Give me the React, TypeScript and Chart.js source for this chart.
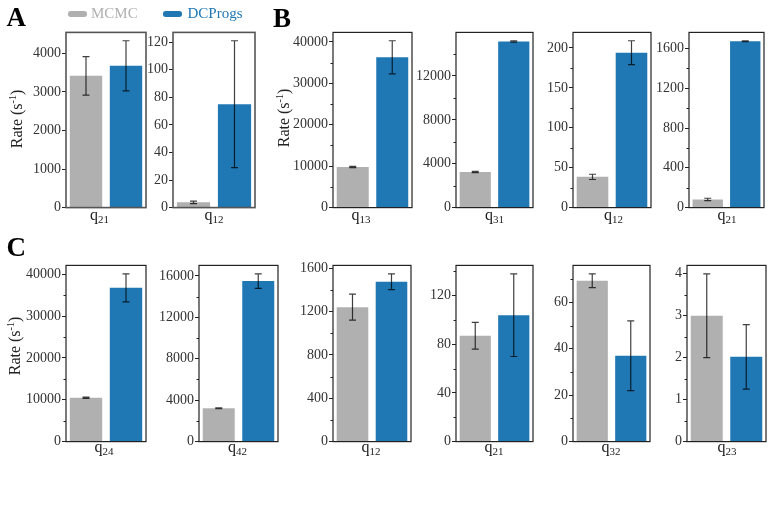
import React, { useEffect, useRef } from 'react';
import { Chart, registerables } from 'chart.js';

Chart.register(...registerables);

const FONT = '"Liberation Serif", "Times New Roman", serif';
const GREY = '#b0b0b0';
const BLUE = '#1f77b4';

// Estimated transition rates (s^-1) for each panel, left to right: A (2), B (4), C (6)
const series = ['MCMC', 'DCProgs'];
const transitions = ['21', '12', '13', '31', '12', '21', '24', '42', '12', '21', '32', '23'];
const mcmcRate = [3420, 3.8, 9800, 3250, 38.5, 82, 10500, 3220, 1240, 87, 69.3, 3.0];
const mcmcErr = [500, 0.9, 150, 60, 3.3, 12, 150, 50, 120, 11, 3, 1.0];
const dcprogsRate = [3680, 75, 36300, 15150, 194, 1672, 36750, 15500, 1475, 104, 37, 2.02];
const dcprogsErr = [650, 46, 4000, 60, 15, 5, 3350, 700, 73, 34, 15, 0.77];
const majorStep = [1000, 20, 10000, 4000, 50, 400, 10000, 4000, 400, 40, 20, 1];
const minorStep = [0, 0, 5000, 2000, 25, 200, 5000, 2000, 200, 20, 10, 0.5];

// Plot frames on the page: left, top, right, bottom
const frames = [
  [66, 31, 146, 209], [173, 31, 255, 209],
  [333, 31, 412, 209], [456, 31, 533, 209], [573, 31, 651, 209], [689, 31, 764, 209],
  [66, 264, 146, 443], [199, 264, 278, 443], [333, 264, 411, 443],
  [456, 264, 533, 443], [573, 264, 650, 443], [687, 264, 766, 443],
];
const xLabelCenter = [99.5, 214, 361, 494.5, 613.5, 727, 104, 237.5, 371, 494, 611, 727];

const AXIS_W = 50;
const PAD_T = 8;
const PAD_R = 4;
const PAD_B = 8;

function makeChart(canvas: HTMLCanvasElement, i: number, frameColor: string, frameWidth: number) {
  const errors = [mcmcErr[i], dcprogsErr[i]];
  const top = Math.max(mcmcRate[i] + mcmcErr[i], dcprogsRate[i] + dcprogsErr[i]) * 1.05;
  const step = majorStep[i];
  const minor = minorStep[i];

  const errorBars = {
    id: 'errorBars',
    afterDatasetsDraw(chart: any) {
      const ctx = chart.ctx;
      const y = chart.scales.y;
      const meta = chart.getDatasetMeta(0);
      const values = chart.data.datasets[0].data as number[];
      ctx.save();
      ctx.strokeStyle = 'rgba(0,0,0,0.75)';
      ctx.lineWidth = 1.2;
      meta.data.forEach((bar: any, j: number) => {
        const x = bar.x;
        const yHi = y.getPixelForValue(values[j] + errors[j]);
        const yLo = y.getPixelForValue(values[j] - errors[j]);
        ctx.beginPath();
        ctx.moveTo(x, yHi);
        ctx.lineTo(x, yLo);
        ctx.moveTo(x - 3.5, yHi);
        ctx.lineTo(x + 3.5, yHi);
        ctx.moveTo(x - 3.5, yLo);
        ctx.lineTo(x + 3.5, yLo);
        ctx.stroke();
      });
      ctx.restore();
    },
  };

  const frame = {
    id: 'frame',
    afterDraw(chart: any) {
      const { ctx, chartArea: a } = chart;
      const y = chart.scales.y;
      ctx.save();
      ctx.strokeStyle = '#222';
      ctx.lineWidth = 1;
      if (minor > 0) {
        for (let v = minor; v < top; v += minor) {
          const r = v / step;
          if (Math.abs(r - Math.round(r)) < 1e-6) continue;
          const py = Math.round(y.getPixelForValue(v)) + 0.5;
          ctx.beginPath();
          ctx.moveTo(a.left - 2.5, py);
          ctx.lineTo(a.left, py);
          ctx.stroke();
        }
      }
      ctx.strokeStyle = frameColor;
      ctx.lineWidth = frameWidth;
      ctx.strokeRect(a.left, a.top, a.right - a.left, a.bottom - a.top);
      ctx.restore();
    },
  };

  return new Chart(canvas, {
    type: 'bar',
    data: {
      labels: series,
      datasets: [
        {
          data: [mcmcRate[i], dcprogsRate[i]],
          backgroundColor: [GREY, BLUE],
          borderWidth: 0,
          barPercentage: 0.81,
          categoryPercentage: 1,
        },
      ],
    },
    options: {
      animation: false,
      responsive: false,
      devicePixelRatio: 1,
      layout: { padding: { top: PAD_T, right: PAD_R, bottom: PAD_B, left: 0 } },
      plugins: { legend: { display: false }, tooltip: { enabled: false } },
      scales: {
        x: { display: false, offset: true },
        y: {
          min: 0,
          max: top,
          afterFit(scale: any) {
            scale.width = AXIS_W;
          },
          afterBuildTicks(scale: any) {
            const ticks = [];
            for (let k = 0; k * step <= top + 1e-9; k++) ticks.push({ value: k * step });
            scale.ticks = ticks;
          },
          ticks: {
            color: '#333',
            padding: 1,
            font: { family: FONT, size: 14 },
            callback: (v: any) => String(v),
          },
          grid: {
            display: true,
            drawOnChartArea: false,
            drawTicks: true,
            tickLength: 4,
            tickColor: '#222',
            tickWidth: 1,
          },
          border: { display: false },
        },
      },
    },
    plugins: [errorBars, frame],
  } as any);
}

function Panel({ i }: { i: number }) {
  const ref = useRef<HTMLCanvasElement>(null);
  const [l, t, r, b] = frames[i];
  const cw = AXIS_W + (r - l) + PAD_R;
  const ch = PAD_T + (b - t) + PAD_B;
  const isA = i < 2;
  useEffect(() => {
    const chart = makeChart(ref.current!, i, isA ? '#555' : '#222', isA ? 1.6 : 1.2);
    return () => chart.destroy();
  }, [i]);
  return (
    <canvas
      ref={ref}
      width={cw}
      height={ch}
      style={{ position: 'absolute', left: l - AXIS_W, top: t - PAD_T, width: cw, height: ch }}
    />
  );
}

const textBase: React.CSSProperties = {
  position: 'absolute',
  fontFamily: FONT,
  whiteSpace: 'nowrap',
};

function XLabel({ i }: { i: number }) {
  const baseline = i < 6 ? 220.5 : 452;
  return (
    <div
      style={{
        ...textBase,
        fontSize: 16,
        lineHeight: '16px',
        color: '#222',
        left: xLabelCenter[i],
        top: baseline - 0.8375 * 16,
        transform: 'translateX(-50%)',
      }}
    >
      q<span style={{ fontSize: 11, position: 'relative', top: 3 }}>{transitions[i]}</span>
    </div>
  );
}

function YTitle({ cx, cy }: { cx: number; cy: number }) {
  return (
    <div
      style={{
        ...textBase,
        fontSize: 16,
        lineHeight: '16px',
        color: '#222',
        left: cx,
        top: cy,
        transform: 'translate(-50%, -50%) rotate(-90deg)',
      }}
    >
      Rate (s<span style={{ fontSize: 10, position: 'relative', top: -6 }}>-1</span>)
    </div>
  );
}

function PanelLetter({ text, x, baseline }: { text: string; x: number; baseline: number }) {
  return (
    <div
      style={{
        ...textBase,
        fontSize: 27,
        lineHeight: '27px',
        fontWeight: 'bold',
        color: '#000',
        left: x,
        top: baseline - 0.8375 * 27,
      }}
    >
      {text}
    </div>
  );
}

function LegendItem({ x, textX, color, label }: { x: number; textX: number; color: string; label: string }) {
  return (
    <>
      <div
        style={{
          position: 'absolute',
          left: x,
          top: 11.3,
          width: 19,
          height: 5.4,
          borderRadius: 2.7,
          background: color,
        }}
      />
      <div
        style={{
          ...textBase,
          fontSize: 15,
          lineHeight: '15px',
          color,
          left: textX,
          top: 19 - 0.8375 * 15,
        }}
      >
        {label}
      </div>
    </>
  );
}

export default function App() {
  return (
    <div
      style={{
        position: 'absolute',
        left: 0,
        top: 0,
        width: 774,
        height: 506,
        background: '#fff',
        overflow: 'hidden',
      }}
    >
      {frames.map((_, i) => (
        <Panel key={'p' + i} i={i} />
      ))}
      {frames.map((_, i) => (
        <XLabel key={'x' + i} i={i} />
      ))}
      <YTitle cx={18} cy={118.5} />
      <YTitle cx={285} cy={118} />
      <YTitle cx={16} cy={346} />
      <PanelLetter text="A" x={6.5} baseline={27} />
      <PanelLetter text="B" x={273} baseline={28} />
      <PanelLetter text="C" x={6.5} baseline={256.7} />
      <LegendItem x={67.7} textX={91} color={GREY} label={series[0]} />
      <LegendItem x={163.3} textX={187.5} color={BLUE} label={series[1]} />
    </div>
  );
}
